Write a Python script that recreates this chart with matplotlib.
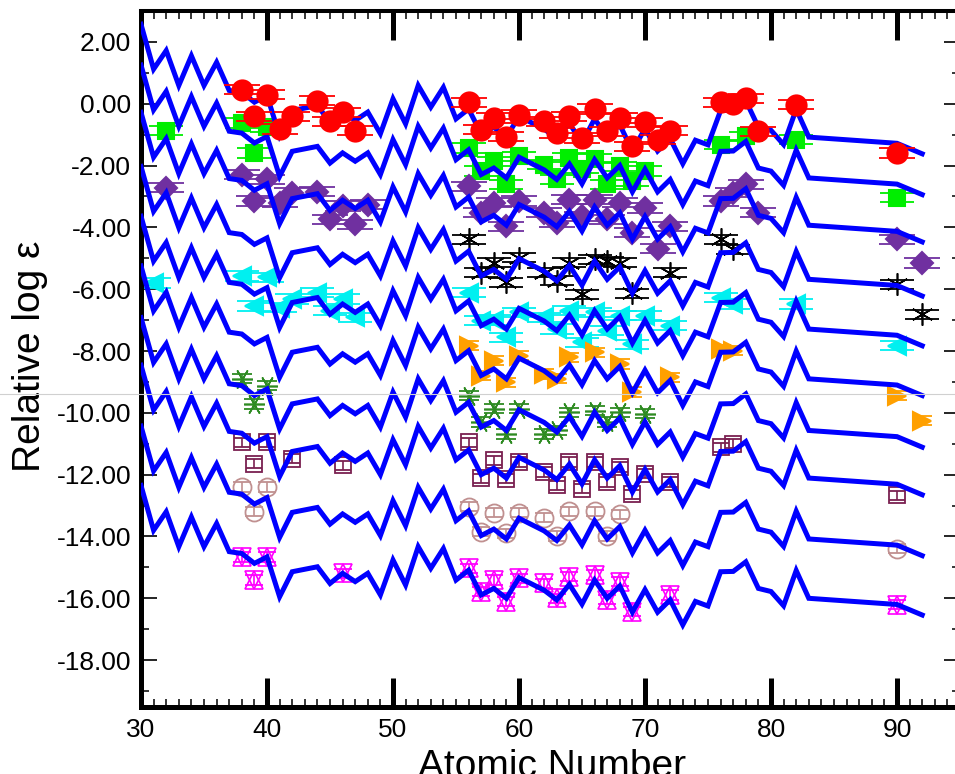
import matplotlib
matplotlib.use('Agg')
import matplotlib.pyplot as plt
from matplotlib.lines import Line2D
from matplotlib.ticker import MultipleLocator, FormatStrFormatter

plt.rcParams['font.family'] = ['Liberation Sans', 'DejaVu Sans']
plt.rcParams['axes.unicode_minus'] = False

# scaled solar r-process pattern (the lowest curve), other curves are shifted copies
pattern_z = [30, 31, 32, 33, 34, 35, 36, 37, 38, 39, 40, 41, 42,
             44, 45, 46, 47, 48, 49, 50, 51, 52, 53, 54, 55, 56, 57, 58, 59, 60,
             62, 63, 64, 65, 66, 67, 68, 69, 70, 71, 72, 73, 74, 75, 76, 77, 78,
             79, 80, 81, 82, 83, 90, 92]
pattern_v = [-12.35, -13.80, -13.20, -14.33, -13.37, -14.33, -13.58, -14.49, -14.55,
             -14.87, -14.66, -15.95, -15.14,
             -14.98, -15.52, -15.19, -15.46, -15.19, -15.89, -14.76, -15.57, -14.33,
             -15.03, -14.39, -15.41, -15.09, -15.89, -15.68, -16.00, -15.33,
             -15.74, -16.05, -15.55, -16.19, -15.41, -16.00, -15.60, -16.45, -15.72,
             -16.45, -16.05, -16.86, -16.10, -16.25, -15.14, -15.13, -14.82, -15.68,
             -15.78, -16.24, -15.10, -16.00, -16.20, -16.54]
curve_offsets = [14.92, 13.60, 12.07, 10.32, 8.71, 7.10, 5.43, 3.89, 1.92, 0.0]

red_z = [38, 39, 40, 41, 42, 44, 45, 46, 47, 56, 57, 58, 59, 60, 62, 63, 64, 65, 66,
         67, 68, 69, 70, 71, 72, 76, 77, 78, 79, 82, 90]
red_v = [0.45, -0.41, 0.29, -0.82, -0.41, 0.10, -0.57, -0.28, -0.87, 0.04, -0.84,
         -0.46, -1.07, -0.35, -0.57, -0.95, -0.41, -1.11, -0.17, -0.89, -0.46, -1.38,
         -0.60, -1.16, -0.87, 0.04, 0.00, 0.18, -0.89, -0.03, -1.59]

green_z = [32, 38, 39, 40, 56, 57, 58, 59, 60, 62, 63, 64, 65, 66, 67, 68, 69, 70,
           76, 78, 82, 90]
green_v = [-0.87, -0.62, -1.59, -0.75, -1.43, -2.18, -1.86, -2.61, -1.70, -1.97,
           -2.45, -1.75, -2.10, -1.78, -2.61, -2.02, -2.50, -2.18, -1.32, -1.05,
           -1.16, -3.04]

purple_z = [32, 38, 39, 40, 41, 42, 44, 45, 46, 47, 48, 56, 57, 58, 59, 60, 62, 63,
            64, 65, 66, 67, 68, 69, 70, 71, 72, 76, 77, 78, 79, 90, 92]
purple_v = [-2.72, -2.29, -3.15, -2.45, -3.20, -2.88, -2.85, -3.74, -3.31, -3.90,
            -3.26, -2.67, -3.53, -3.20, -3.96, -3.15, -3.53, -3.85, -3.10, -3.64,
            -3.10, -3.74, -3.20, -4.17, -3.37, -4.69, -3.96, -3.15, -2.88, -2.61,
            -3.53, -4.39, -5.15]

black_z = [56, 57, 58, 59, 60, 62, 63, 64, 65, 66, 67, 68, 69, 72, 76, 77, 90, 92]
black_v = [-4.39, -5.46, -5.14, -5.78, -4.98, -5.46, -5.73, -5.14, -6.16, -5.03,
           -5.10, -5.14, -6.13, -5.46, -4.39, -4.71, -5.84, -6.81]

cyan_z = [31, 38, 39, 40, 41, 42, 44, 45, 46, 47, 56, 57, 58, 59, 60, 62, 63, 64,
          65, 66, 67, 68, 69, 70, 72, 76, 77, 82, 90]
cyan_v = [-5.80, -5.57, -6.54, -5.62, -6.60, -6.32, -6.11, -6.70, -6.32, -6.91,
          -6.11, -7.02, -7.00, -7.56, -6.75, -6.91, -7.29, -6.70, -7.72, -6.75,
          -7.34, -6.86, -7.78, -6.86, -7.18, -6.27, -6.48, -6.48, -7.83]

orange_z = [56, 57, 58, 59, 60, 62, 63, 64, 66, 68, 69, 72, 76, 77, 90, 92]
orange_v = [-7.83, -8.80, -8.31, -9.01, -8.15, -8.74, -8.90, -8.20, -8.04, -8.42,
            -9.33, -8.85, -7.94, -7.99, -9.44, -10.25]

gstar_z = [38, 39, 40, 56, 57, 58, 59, 60, 62, 63, 64, 66, 67, 68, 70]
gstar_v = [-8.90, -9.71, -9.12, -9.44, -10.30, -9.87, -10.68, -9.87, -10.68, -10.57,
           -9.98, -9.93, -10.30, -9.98, -10.03]

maroon_z = [38, 39, 40, 42, 46, 56, 57, 58, 59, 60, 62, 63, 64, 65, 66, 67, 68, 69,
            70, 72, 76, 77, 90]
maroon_v = [-10.95, -11.65, -10.95, -11.48, -11.70, -10.95, -12.12, -11.54, -12.13,
            -11.59, -11.91, -12.35, -11.59, -12.45, -11.59, -12.24, -11.75, -12.64,
            -11.97, -12.24, -11.11, -11.00, -12.67]

rosy_z = [38, 39, 40, 56, 57, 58, 59, 60, 62, 63, 64, 66, 67, 68, 90]
rosy_v = [-12.40, -13.20, -12.40, -13.04, -13.85, -13.23, -13.90, -13.23, -13.39,
          -13.98, -13.18, -13.18, -13.98, -13.28, -14.39]

mag_z = [38, 39, 40, 46, 56, 57, 58, 59, 60, 62, 63, 64, 66, 67, 68, 69, 72, 90]
mag_v = [-14.66, -15.41, -14.66, -15.19, -15.03, -15.79, -15.41, -16.11, -15.35,
         -15.52, -16.00, -15.30, -15.25, -16.05, -15.46, -16.43, -15.89, -16.21]

err = 0.15

fig = plt.figure(figsize=(9.55, 7.74), dpi=100)
ax = fig.add_axes([141 / 955, 1 - 706.5 / 774, (960 - 141) / 955, (706.5 - 11) / 774])


def draw_set(z, v, marker, color, ms, cap, filled=True, mew=1.5, zo=2):
    ax.errorbar(z, v, yerr=err, fmt='none', ecolor=color, elinewidth=1.2,
                capsize=cap, capthick=1.3, zorder=zo)
    ax.plot(z, v, linestyle='none', marker=marker, ms=ms,
            mfc=color if filled else 'none', mec=color, mew=mew, zorder=zo)


for off in curve_offsets:
    ax.plot(pattern_z, [p + off for p in pattern_v], color='#0000ff', lw=3.6,
            solid_joinstyle='miter', zorder=3)

draw_set(red_z, red_v, 'o', '#ff0000', 14.5, 13, zo=4)
draw_set(green_z, green_v, 's', '#00ee00', 11.5, 12.5)
draw_set(purple_z, purple_v, 'D', '#7030a0', 11.5, 13)
draw_set(black_z, black_v, (6, 2, 0), '#000000', 16, 12.5, mew=1.2)
draw_set(cyan_z, cyan_v, '<', '#00f0f0', 13, 12.5)
draw_set(orange_z, orange_v, '>', '#ffa000', 13, 7)
draw_set(gstar_z, gstar_v, (6, 2, 90), '#2e8b22', 15, 7, mew=1.2)
draw_set(maroon_z, maroon_v, 's', '#7a2050', 12, 6, filled=False, mew=1.3)
draw_set(rosy_z, rosy_v, 'o', '#c09090', 13, 6.5, filled=False, mew=1.3)
draw_set(mag_z, mag_v, '^', '#ff00ff', 13, 6.5, filled=False, mew=1.2)
ax.plot(mag_z, mag_v, linestyle='none', marker='v', ms=13, mfc='none',
        mec='#ff00ff', mew=1.2, zorder=2)

ax.set_xlim(30, 95)
ax.set_ylim(-19.5, 3.0)
ax.xaxis.set_major_locator(MultipleLocator(10))
ax.xaxis.set_minor_locator(MultipleLocator(1))
ax.yaxis.set_major_locator(MultipleLocator(2))
ax.yaxis.set_minor_locator(MultipleLocator(1))
ax.yaxis.set_major_formatter(FormatStrFormatter('%.2f'))

ax.tick_params(axis='x', which='major', direction='in', length=21, width=3.6,
               top=True, bottom=True, labelsize=19, pad=8)
ax.tick_params(axis='x', which='minor', direction='in', length=6, width=1.1,
               top=True, bottom=True)
ax.tick_params(axis='y', which='major', direction='in', length=11.5, width=1.2,
               left=True, right=True, labelsize=19, pad=7)
ax.tick_params(axis='y', which='minor', direction='in', length=6, width=1.1,
               left=True, right=True)
for side, w in (('left', 3.6), ('bottom', 3.6), ('top', 2.9), ('right', 3.0)):
    ax.spines[side].set_linewidth(w)

fig.text(30 / 955, 1 - 356 / 774, 'Relative log ε', rotation=90, ha='center',
         va='center', fontsize=28)
fig.text(552 / 955, 1 - 749 / 774, 'Atomic Number', ha='center', va='top',
         fontsize=28)

fig.add_artist(Line2D([0, 1], [1 - 394 / 774, 1 - 394 / 774], color='#d0d0d0',
                      lw=0.8, zorder=5))

fig.savefig('out.png', dpi=100)
